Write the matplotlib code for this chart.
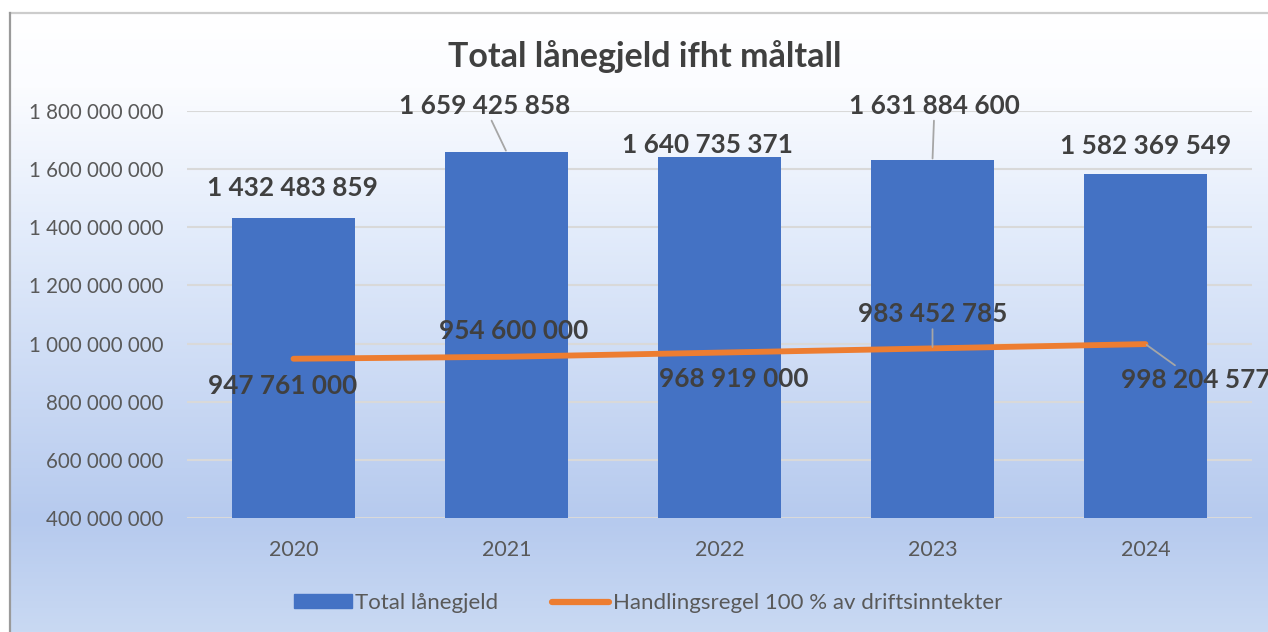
import matplotlib
matplotlib.use("Agg")
import matplotlib.pyplot as plt
import numpy as np
from matplotlib.colors import LinearSegmentedColormap
from matplotlib.lines import Line2D
from matplotlib.patches import Patch

years = ["2020", "2021", "2022", "2023", "2024"]
laanegjeld = [1432483859, 1659425858, 1640735371, 1631884600, 1582369549]
handlingsregel = [947761000, 954600000, 968919000, 983452785, 998204577]
yticks = [400e6, 600e6, 800e6, 1000e6, 1200e6, 1400e6, 1600e6, 1800e6]

# label offsets in pixels (dx, dy) and whether a leader line is drawn
bar_offsets = [(-1, 30, False), (-22, 46, True), (-12, 12, False), (2, 54, True), (0, 28, False)]
line_offsets = [(-11, -27, False), (7, 26, False), (14, -26, False), (0, 34, True), (50, -36, True)]

plt.rcParams['font.family'] = ['Lato', 'DejaVu Sans']

W, H = 1268, 632
fig = plt.figure(figsize=(W / 100, H / 100), dpi=100)
fig.patch.set_facecolor('white')


def fmt(v):
    return f"{int(round(v)):,}".replace(",", " ")


# background gradient inside the chart frame
bg = fig.add_axes([10 / W, 0, 1 - 10 / W, 1 - 13 / H])
bg.set_axis_off()
cmap = LinearSegmentedColormap.from_list(
    "bg", [(0, "#ffffff"), (0.12, "#fbfcff"), (0.35, "#e3ecfb"),
           (0.82, "#b6caee"), (1.0, "#c9d9f3")])
grad = np.linspace(0, 1, 256).reshape(-1, 1)
bg.imshow(grad, aspect='auto', cmap=cmap, extent=[0, 1, 0, 1], origin='upper')
bg.set_zorder(-10)

# frame lines (top and left)
fig.add_artist(Line2D([10 / W, 1], [1 - 13 / H, 1 - 13 / H], color="#cccccc", lw=1.6))
fig.add_artist(Line2D([10 / W, 10 / W], [0, 1 - 13 / H], color="#9a9a9a", lw=1.6))

ax = fig.add_axes([187 / W, 1 - 518 / H, (1252 - 187) / W, (518 - 111) / H])
ax.patch.set_alpha(0)
x = np.arange(len(years))
ax.bar(x, laanegjeld, width=0.575, color="#4472C4", zorder=2)
ax.plot(x, handlingsregel, color="#ED7D31", lw=4.2, solid_capstyle='round', zorder=3)

ax.set_xlim(-0.5, len(years) - 0.5)
ax.set_ylim(400e6, 1800e6)
ax.set_yticks(yticks)
ax.set_yticklabels([fmt(v) for v in yticks])
ax.set_xticks(x)
ax.set_xticklabels(years)
ax.tick_params(length=0, labelcolor="#595959")
ax.tick_params(axis='y', pad=17, labelsize=14.8)
ax.tick_params(axis='x', pad=16, labelsize=15.5)
ax.grid(axis='y', color="#d9d9d9", lw=1.5, zorder=0)
ax.set_axisbelow(True)
for s in ax.spines.values():
    s.set_visible(False)

label_kw = dict(textcoords='offset pixels', ha='center', va='center',
                fontsize=18.8, fontweight='bold', color="#404040", zorder=5,
                annotation_clip=False)
leader = dict(arrowstyle='-', color="#a6a6a6", lw=1.3, shrinkA=0, shrinkB=1)

for i, v in enumerate(laanegjeld):
    dx, dy, lead = bar_offsets[i]
    ax.annotate(fmt(v), (x[i], v), xytext=(dx, dy),
                arrowprops=leader if lead else None, **label_kw)

for i, v in enumerate(handlingsregel):
    dx, dy, lead = line_offsets[i]
    ax.annotate(fmt(v), (x[i], v), xytext=(dx, dy),
                arrowprops=leader if lead else None, **label_kw)

fig.text(645 / W, 1 - 57 / H, "Total lånegjeld ifht måltall", ha='center', va='center',
         fontsize=24.5, fontweight='bold', color="#404040")

handles = [Patch(color="#4472C4"),
           Line2D([0], [0], color="#ED7D31", lw=4.5, solid_capstyle='round')]
fig.legend(handles, ["Total lånegjeld", "Handlingsregel 100 % av driftsinntekter"],
           loc='center', bbox_to_anchor=(648 / W, 1 - 603 / H), ncol=2, frameon=False,
           fontsize=16, labelcolor="#595959", handlelength=2.6, handleheight=0.55,
           handletextpad=0.15, columnspacing=2.4)

fig.savefig("out.png", dpi=100)
